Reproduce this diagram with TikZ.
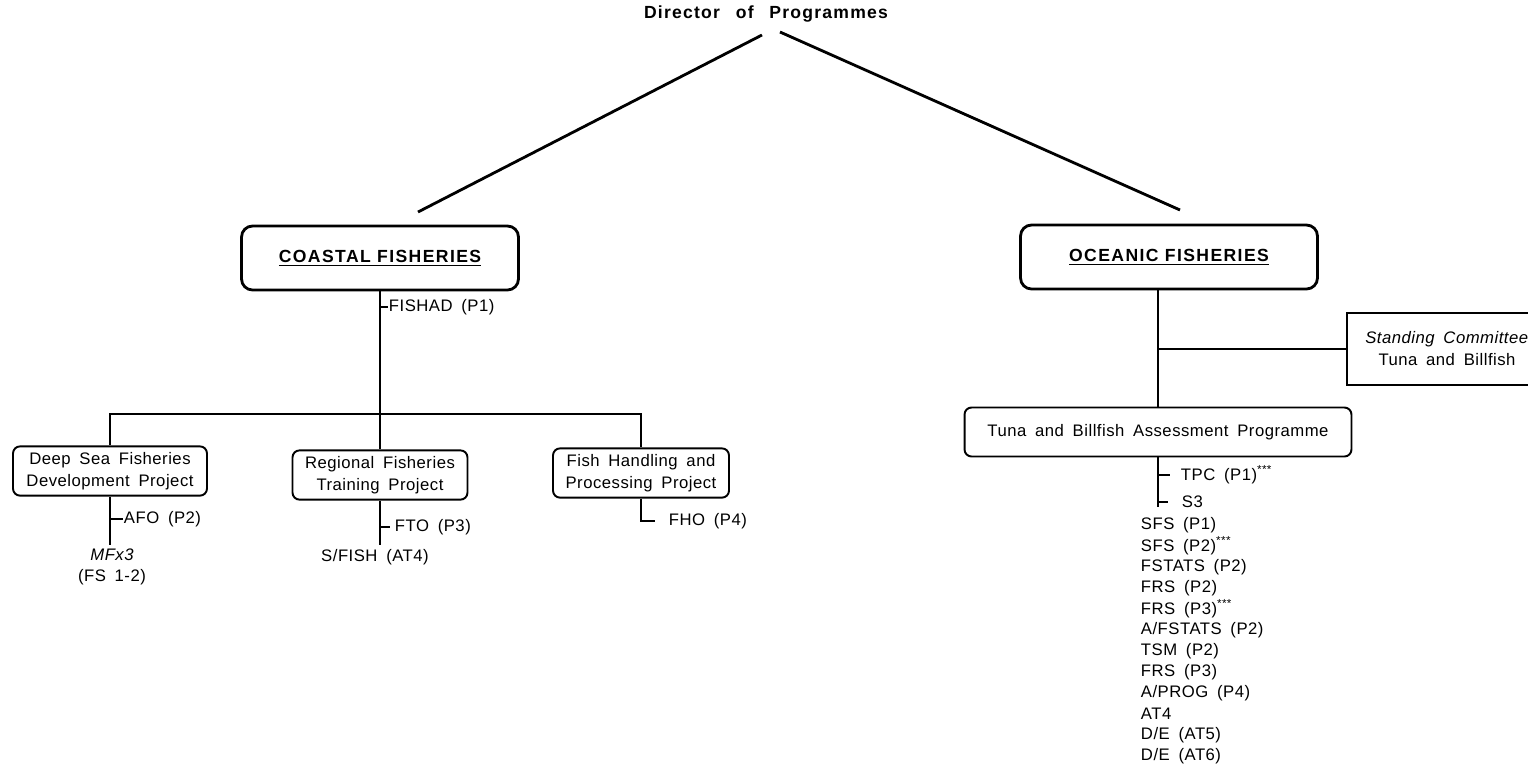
\documentclass[tikz,border=0pt]{standalone}
\usepackage{fontspec}
\setmainfont{Liberation Sans}
\newfontfamily\unitfam{Liberation Sans}[LetterSpace=3,WordSpace=1.7]
\usetikzlibrary{positioning}

\newcommand{\unitfont}{\unitfam\fontsize{9.5}{12.5}\selectfont}
\newcommand{\headfont}{\fontsize{10}{12}\selectfont\bfseries\addfontfeature{LetterSpace=8}}
\newcommand{\dirfont}{\fontsize{10}{12}\selectfont\bfseries\addfontfeature{LetterSpace=7}}

\tikzset{
  headbox/.style={draw, line width=1.6pt, rounded corners=0.22cm, minimum width=5.54cm, minimum height=1.28cm, font=\headfont},
  unitbox/.style={draw, line width=1.1pt, rounded corners=0.14cm, align=center, minimum height=0.98cm, font=\unitfont},
  post/.style={font=\unitfont, inner sep=0pt, anchor=west},
  postc/.style={font=\unitfont, inner sep=0pt},
}

\begin{document}
\begin{tikzpicture}[x=0.02cm, y=-0.02cm, line width=1.1pt]
    \useasboundingbox (0,0) rectangle (1528,772);
    % top
    \node[font=\dirfont] (director) at (766,14) {Director\hspace{0.9em}of\hspace{0.9em}Programmes};
    \coordinate (dirL) at (762,35);
    \coordinate (dirR) at (780,32);
    \coordinate (coastTop) at (418,212);
    \coordinate (oceanTop) at (1180,210);
    \draw[line width=1.6pt] (dirL) -- (coastTop);
    \draw[line width=1.6pt] (dirR) -- (oceanTop);
    \node[headbox] (coastal) at (380,258) {\underline{COASTAL FISHERIES}};
    \node[headbox, minimum width=5.94cm] (oceanic) at (1169,257) {\underline{OCEANIC FISHERIES}};

    % coastal side
    \node[unitbox, minimum width=3.88cm] (deepsea) at (110,471) {Deep Sea Fisheries\\Development Project};
    \node[unitbox, minimum width=3.5cm] (regional) at (380,475) {Regional Fisheries\\Training Project};
    \node[unitbox, minimum width=3.52cm] (fish) at (641,473) {Fish Handling and\\Processing Project};
    \coordinate (bar) at (380,414);
    \draw (coastal.south) -- (regional.north);
    \draw (deepsea.north) |- (bar) -| (fish.north);
    \node[post] (fishad) at (388,307) {FISHAD (P1)};
    \draw (coastal.south |- fishad.west) -- (fishad.west);

    \coordinate (deepEnd) at (110,545);
    \draw (deepsea.south) -- (deepEnd);
    \node[post] (afo) at (123,519) {AFO (P2)};
    \draw (deepsea.south |- afo.west) -- (afo.west);
    \node[postc] (mfx) at (112,555) {\itshape MFx3};
    \node[postc] (fsgrade) at (112,577) {(FS 1-2)};

    \coordinate (regEnd) at (380,545);
    \draw (regional.south) -- (regEnd);
    \node[post] (fto) at (394,527) {FTO (P3)};
    \draw (regional.south |- fto.west) -- ([xshift=-0.08cm]fto.west);
    \node[postc] (sfish) at (375,557) {S/FISH (AT4)};

    \node[post] (fho) at (668,521) {FHO (P4)};
    \draw (fish.south) |- ([xshift=-0.26cm]fho.west);

    % oceanic side
    \node[unitbox, minimum width=7.74cm] (tuna) at (1158,432) {Tuna and Billfish Assessment Programme};
    \node[draw, minimum width=4cm, minimum height=1.44cm, align=center, font=\unitfont] (committee) at (1447,349) {\textit{Standing Committee}\\Tuna and Billfish};
    \draw (oceanic.south -| tuna.north) -- (tuna.north);
    \draw (tuna.north |- committee.west) -- (committee.west);

    \coordinate (tunaEnd) at (1158,507);
    \draw (tuna.south) -- (tunaEnd);
    \node[post] (tpc) at (1180,475) {TPC (P1)\textsuperscript{***}};
    \draw (tuna.south |- tpc.west) -- ([xshift=-0.2cm]tpc.west);
    \node[post] (sthree) at (1181,502) {S3};
    \draw (tuna.south |- sthree.west) -- ([xshift=-0.26cm]sthree.west);

    \foreach \post [count=\i] in {SFS (P1), SFS (P2)\textsuperscript{***}, FSTATS (P2), FRS (P2), FRS (P3)\textsuperscript{***}, A/FSTATS (P2), TSM (P2), FRS (P3), A/PROG (P4), AT4, D/E (AT5), D/E (AT6)}
      \node[post] (staff\i) at (1140,{525+(\i-1)*21}) {\post};
\end{tikzpicture}
\end{document}
